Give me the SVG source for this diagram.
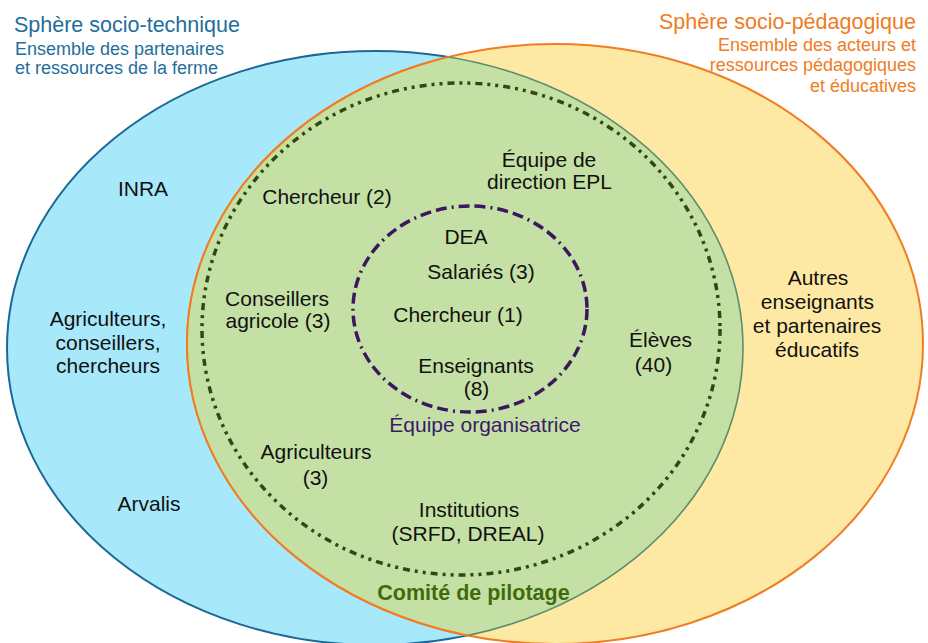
<svg xmlns="http://www.w3.org/2000/svg" width="928" height="643" viewBox="0 0 928 643">
<style>
text{font-family:"Liberation Sans",Arial,sans-serif;}
.lbl{font-size:21px;fill:#111;text-anchor:middle;}
.t-blue{fill:#1f6e9c;}
.t-orange{fill:#ee7c22;}
.h1{font-size:21.5px;}
.h2{font-size:18px;}
.purple{font-size:21px;fill:#3b1a6b;text-anchor:middle;}
.green{font-size:21.5px;font-weight:bold;fill:#3f6b0c;text-anchor:middle;}
.dotted{fill:none;stroke:#2e4a10;stroke-width:3.5;stroke-dasharray:7 5 3 5 3 5;}
.dashdot{fill:none;stroke:#3a175e;stroke-width:3.5;stroke-dasharray:11 5 11 5 2 5;}
</style>
<defs>
<clipPath id="clipBlue"><ellipse cx="375" cy="348" rx="368" ry="297"/></clipPath>
<clipPath id="clipYellow"><ellipse cx="555" cy="344" rx="368" ry="300"/></clipPath>
</defs>
<rect width="928" height="643" fill="#ffffff"/>
<g id="sphere-technique">
<ellipse cx="375" cy="348" rx="368" ry="297" fill="#a7e9fb" stroke="#1b6896" stroke-width="2"/>
</g>
<g id="sphere-pedagogique">
<ellipse cx="555" cy="344" rx="368" ry="300" fill="#fee9a4" stroke="#f07d20" stroke-width="2"/>
</g>
<g id="intersection">
<ellipse cx="555" cy="344" rx="368" ry="300" fill="#c5e0a4" stroke="#f07d20" stroke-width="2" clip-path="url(#clipBlue)"/>
<ellipse cx="375" cy="348" rx="368" ry="297" fill="none" stroke="#5e8d6c" stroke-width="1.6" clip-path="url(#clipYellow)"/>
</g>
<g id="comite-pilotage">
<ellipse class="dotted" cx="461" cy="329" rx="259" ry="246"/>
<text class="green" x="473.5" y="600">Comité de pilotage</text>
</g>
<g id="equipe-organisatrice">
<ellipse class="dashdot" cx="470" cy="309" rx="117" ry="103"/>
<text class="purple" x="485" y="432">Équipe organisatrice</text>
</g>
<g id="titre-technique">
<text class="t-blue h1" x="14" y="32">Sphère socio-technique</text>
<text class="t-blue h2" x="15" y="55">Ensemble des partenaires</text>
<text class="t-blue h2" x="15" y="74">et ressources de la ferme</text>
</g>
<g id="titre-pedagogique" text-anchor="end">
<text class="t-orange h1" x="916" y="29">Sphère socio-pédagogique</text>
<text class="t-orange h2" x="916" y="51">Ensemble des acteurs et</text>
<text class="t-orange h2" x="916" y="71">ressources pédagogiques</text>
<text class="t-orange h2" x="916" y="92">et éducatives</text>
</g>
<g id="inra"><text class="lbl" x="143" y="196">INRA</text></g>
<g id="agriculteurs-conseillers-chercheurs">
<text class="lbl" x="108" y="326">Agriculteurs,</text>
<text class="lbl" x="108" y="350">conseillers,</text>
<text class="lbl" x="108" y="373">chercheurs</text>
</g>
<g id="arvalis"><text class="lbl" x="149" y="511">Arvalis</text></g>
<g id="chercheur-2"><text class="lbl" x="327" y="204">Chercheur (2)</text></g>
<g id="equipe-direction">
<text class="lbl" x="549" y="167">Équipe de</text>
<text class="lbl" x="549.5" y="189">direction EPL</text>
</g>
<g id="conseillers-agricole">
<text class="lbl" x="277" y="306">Conseillers</text>
<text class="lbl" x="278" y="328">agricole (3)</text>
</g>
<g id="dea"><text class="lbl" x="466" y="244">DEA</text></g>
<g id="salaries"><text class="lbl" x="481" y="279">Salariés (3)</text></g>
<g id="chercheur-1"><text class="lbl" x="458" y="322">Chercheur (1)</text></g>
<g id="enseignants">
<text class="lbl" x="476" y="373">Enseignants</text>
<text class="lbl" x="476.5" y="396">(8)</text>
</g>
<g id="eleves">
<text class="lbl" x="660.5" y="347">Élèves</text>
<text class="lbl" x="653.5" y="372">(40)</text>
</g>
<g id="autres-enseignants">
<text class="lbl" x="818" y="285">Autres</text>
<text class="lbl" x="817.5" y="309">enseignants</text>
<text class="lbl" x="817" y="333">et partenaires</text>
<text class="lbl" x="817" y="357">éducatifs</text>
</g>
<g id="agriculteurs-3">
<text class="lbl" x="316" y="459">Agriculteurs</text>
<text class="lbl" x="315.5" y="485">(3)</text>
</g>
<g id="institutions">
<text class="lbl" x="469" y="517">Institutions</text>
<text class="lbl" x="468" y="541">(SRFD, DREAL)</text>
</g>
</svg>
